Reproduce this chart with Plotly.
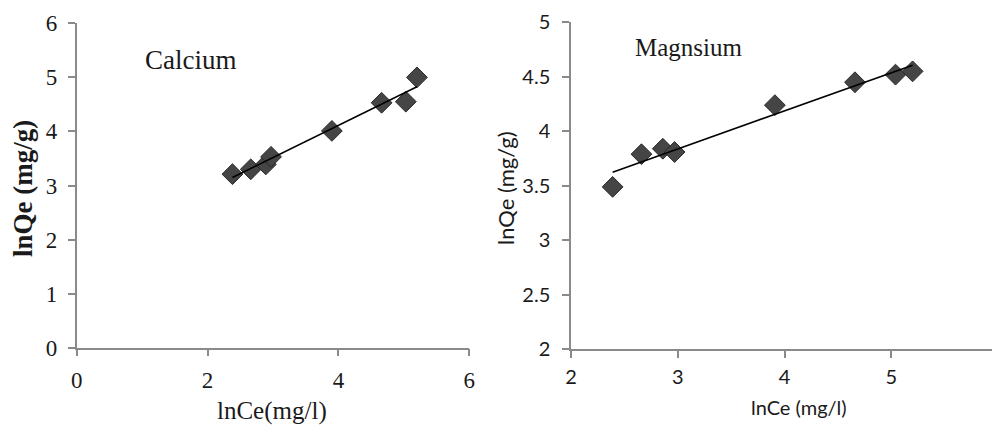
import numpy as np
import plotly.graph_objects as go

# Data
ce_ln = [2.38, 2.66, 2.89, 2.97, 3.90, 4.66, 5.03, 5.20]
qe_calcium = [3.21, 3.30, 3.39, 3.53, 4.01, 4.53, 4.55, 5.00]
ce_ln_mg = [2.39, 2.66, 2.86, 2.97, 3.91, 4.66, 5.04, 5.20]
qe_magnesium = [3.49, 3.79, 3.84, 3.81, 4.24, 4.45, 4.52, 4.55]

left_xticks = [0, 2, 4, 6]
left_yticks = [0, 1, 2, 3, 4, 5, 6]
right_xticks = [2, 3, 4, 5, 6]
right_yticks = [2, 2.5, 3, 3.5, 4, 4.5, 5]

# page body has an 8px margin; figure is sized to fill the rest of the window
W, H, OFF = 992, 425, 8


def px(x):
    return (x - OFF) / W


def py(y):
    return 1 - (y - OFF) / H


def fit_line(x, y):
    a, b = np.polyfit(x, y, 1)
    xs = np.array([min(x), max(x)])
    return xs, a * xs + b


fig = go.Figure()
marker = dict(symbol="diamond", size=16, color="#454545",
              line=dict(color="#2a2a2a", width=1))

fx, fy = fit_line(ce_ln, qe_calcium)
fig.add_trace(go.Scatter(x=ce_ln, y=qe_calcium, mode="markers", marker=marker,
                         xaxis="x", yaxis="y", showlegend=False))
fig.add_trace(go.Scatter(x=fx, y=fy, mode="lines", line=dict(color="black", width=1.6),
                         xaxis="x", yaxis="y", showlegend=False))

gx, gy = fit_line(ce_ln_mg, qe_magnesium)
fig.add_trace(go.Scatter(x=ce_ln_mg, y=qe_magnesium, mode="markers", marker=marker,
                         xaxis="x2", yaxis="y2", showlegend=False))
fig.add_trace(go.Scatter(x=gx, y=gy, mode="lines", line=dict(color="black", width=1.6),
                         xaxis="x2", yaxis="y2", showlegend=False))

axis_common = dict(showgrid=False, zeroline=False, showline=True, linecolor="#8a8a8a",
                   linewidth=1.5, ticks="outside", ticklen=7, tickcolor="#8a8a8a",
                   tickwidth=1.5, automargin=False, fixedrange=True,
                   ticklabeloverflow="allow")
serif_tick = dict(family="Liberation Serif, Times New Roman, serif", size=23, color="#1a1a1a")
sans_tick = dict(family="Lato, Open Sans, sans-serif", size=20, color="#1a1a1a")

ann_common = dict(xref="paper", yref="paper", showarrow=False,
                  xanchor="center", yanchor="middle")

fig.update_layout(
    width=W, height=H,
    margin=dict(l=0, r=0, t=0, b=0, autoexpand=False),
    paper_bgcolor="white", plot_bgcolor="white",
    xaxis=dict(domain=[px(76.7), px(469.3)], range=[0, 6], tickvals=left_xticks,
               tickfont=serif_tick, anchor="y", ticklabelstandoff=4, **axis_common),
    yaxis=dict(domain=[py(347.7), py(23.3)], range=[0, 6], tickvals=left_yticks,
               tickfont=serif_tick, anchor="x", ticklabelstandoff=6, **axis_common),
    xaxis2=dict(domain=[px(571), px(998)], range=[2, 6], tickvals=right_xticks,
                tickfont=sans_tick, anchor="y2", ticklabelstandoff=2, **axis_common),
    yaxis2=dict(domain=[py(349.3), py(22.3)], range=[2, 5], tickvals=right_yticks,
                tickfont=sans_tick, anchor="x2", ticklabelstandoff=8, **axis_common),
    annotations=[
        dict(text="Calcium", x=px(190), y=py(60), **ann_common,
             font=dict(family="Liberation Serif, serif", size=27, color="#1a1a1a")),
        dict(text="Magnsium", x=px(689), y=py(47), **ann_common,
             font=dict(family="Liberation Serif, serif", size=25, color="#1a1a1a")),
        dict(text="<b>lnQe (mg/g)</b>", x=px(23), y=py(189), textangle=-90, **ann_common,
             font=dict(family="Liberation Serif, serif", size=27, color="#1a1a1a")),
        dict(text="lnCe(mg/l)", x=px(272), y=py(411), **ann_common,
             font=dict(family="Liberation Serif, serif", size=25, color="#1a1a1a")),
        dict(text="lnQe (mg/g)", x=px(505), y=py(188), textangle=-90, **ann_common,
             font=dict(family="Lato, sans-serif", size=22, color="#1a1a1a")),
        dict(text="lnCe (mg/l)", x=px(799), y=py(407), **ann_common,
             font=dict(family="Lato, sans-serif", size=20, color="#1a1a1a")),
    ],
)

fig.write_html("out.html")
